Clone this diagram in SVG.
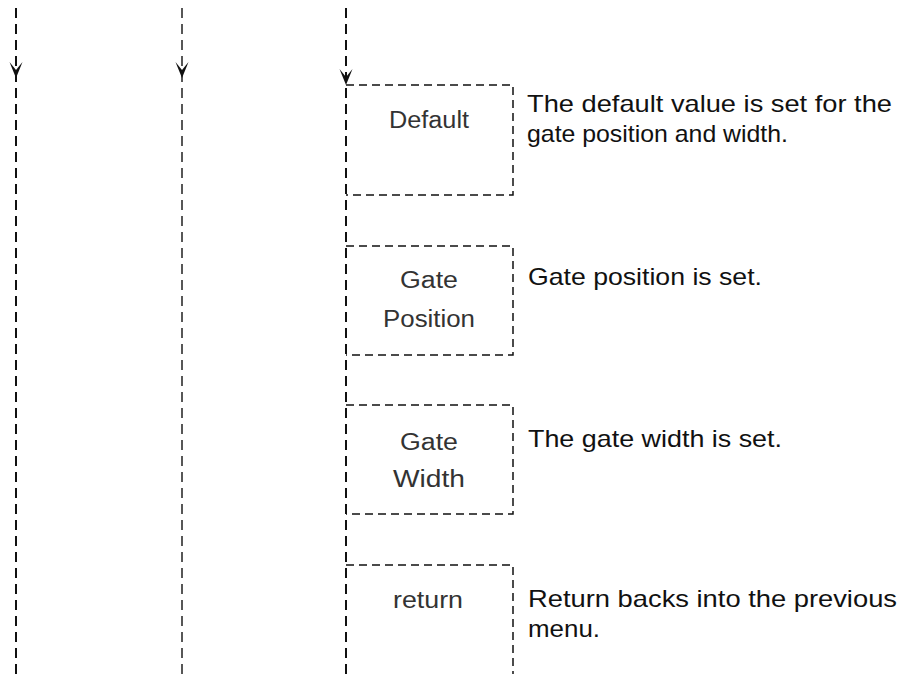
<svg xmlns="http://www.w3.org/2000/svg" width="902" height="674" viewBox="0 0 902 674">
<style>
.flow{stroke:#111;stroke-width:2;stroke-dasharray:10 6;fill:none}
.flow2{stroke:#111;stroke-width:1.4;stroke-dasharray:10 6;fill:none}
.box{stroke:#111;stroke-width:1.5;stroke-dasharray:8 5;fill:none}
.lbl{font-family:"Liberation Sans",Arial,sans-serif;font-size:23px;fill:#333;text-anchor:middle}
.desc{font-family:"Liberation Sans",Arial,sans-serif;font-size:24px;fill:#111}
</style>
<defs>
<path id="ah" d="M-6.5,-16 L0,0 L6.5,-16 L0,-8 Z" fill="#111"/>
</defs>
<rect width="902" height="674" fill="#fff"/>
<g id="connectors">
<line class="flow" x1="16" y1="8" x2="16" y2="674"/>
<line class="flow2" x1="182" y1="8" x2="182" y2="674"/>
<line class="flow" x1="346" y1="8" x2="346" y2="674"/>
<use href="#ah" x="16" y="78"/>
<use href="#ah" x="182" y="78"/>
<use href="#ah" x="346" y="85"/>
</g>
<g id="node-default">
<path class="box" d="M346,85 H513 V195 H346"/>
<text class="lbl" x="429" y="128" textLength="80" lengthAdjust="spacingAndGlyphs">Default</text>
<text class="desc" x="527" y="112" textLength="365" lengthAdjust="spacingAndGlyphs">The default value is set for the</text>
<text class="desc" x="527" y="142" textLength="261" lengthAdjust="spacingAndGlyphs">gate position and width.</text>
</g>
<g id="node-gate-position">
<path class="box" d="M346,246 H513 V355 H346"/>
<text class="lbl" x="429" y="288" textLength="58" lengthAdjust="spacingAndGlyphs">Gate</text>
<text class="lbl" x="429" y="327" textLength="92" lengthAdjust="spacingAndGlyphs">Position</text>
<text class="desc" x="528" y="285" textLength="234" lengthAdjust="spacingAndGlyphs">Gate position is set.</text>
</g>
<g id="node-gate-width">
<path class="box" d="M346,405 H513 V514 H346"/>
<text class="lbl" x="429" y="450" textLength="58" lengthAdjust="spacingAndGlyphs">Gate</text>
<text class="lbl" x="429" y="487" textLength="72" lengthAdjust="spacingAndGlyphs">Width</text>
<text class="desc" x="528" y="447" textLength="254" lengthAdjust="spacingAndGlyphs">The gate width is set.</text>
</g>
<g id="node-return">
<path class="box" d="M346,565 H513 V674"/>
<text class="lbl" x="428" y="608" textLength="70" lengthAdjust="spacingAndGlyphs">return</text>
<text class="desc" x="528" y="607" textLength="369" lengthAdjust="spacingAndGlyphs">Return backs into the previous</text>
<text class="desc" x="528" y="637" textLength="72" lengthAdjust="spacingAndGlyphs">menu.</text>
</g>
</svg>
